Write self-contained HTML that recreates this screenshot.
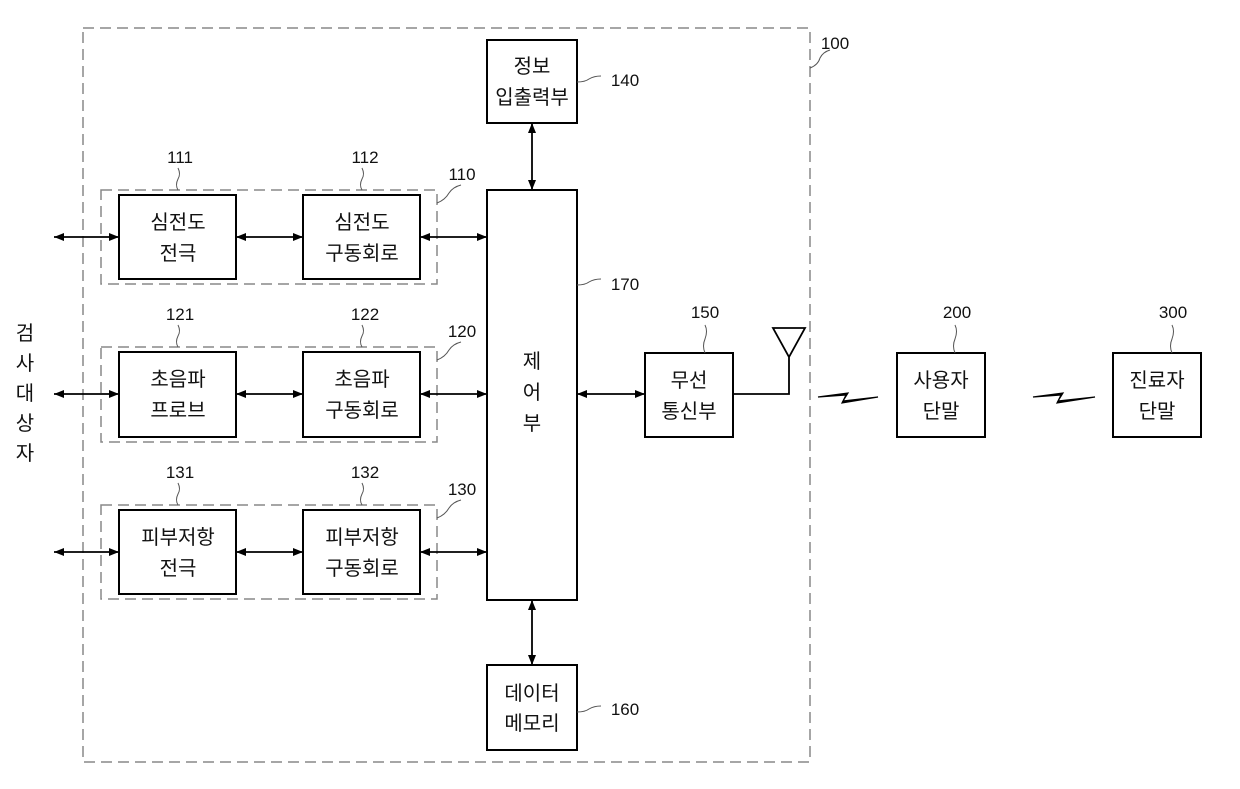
<!DOCTYPE html>
<html><head><meta charset="utf-8"><style>
body{margin:0;background:#fff}
svg text{font-family:"Liberation Sans","Noto Sans CJK KR",sans-serif;fill:#111}
.k{font-size:20px}
.n{font-size:17px}
</style></head><body>
<svg width="1240" height="784" viewBox="0 0 1240 784" xmlns="http://www.w3.org/2000/svg">
<defs>
<marker id="a" viewBox="0 0 10 10" refX="10" refY="5" markerWidth="14" markerHeight="10" orient="auto-start-reverse" markerUnits="userSpaceOnUse"><path d="M0,1 L10,5 L0,9 Z" fill="#000"/></marker>
</defs>
<g fill="none" stroke="#888" stroke-width="1.5" stroke-dasharray="11,6">
<rect x="83" y="28" width="727" height="734"/>
<rect x="101" y="190" width="336" height="94"/>
<rect x="101" y="347" width="336" height="95"/>
<rect x="101" y="505" width="336" height="94"/>
</g>
<g fill="#fff" stroke="#000" stroke-width="2">
<rect x="487" y="40" width="90" height="83"/>
<rect x="487" y="190" width="90" height="410"/>
<rect x="487" y="665" width="90" height="85"/>
<rect x="119" y="195" width="117" height="84"/>
<rect x="303" y="195" width="117" height="84"/>
<rect x="119" y="352" width="117" height="85"/>
<rect x="303" y="352" width="117" height="85"/>
<rect x="119" y="510" width="117" height="84"/>
<rect x="303" y="510" width="117" height="84"/>
<rect x="645" y="353" width="88" height="84"/>
<rect x="897" y="353" width="88" height="84"/>
<rect x="1113" y="353" width="88" height="84"/>
</g>
<g stroke="#000" stroke-width="1.8" marker-start="url(#a)" marker-end="url(#a)">
<line x1="54" y1="237" x2="119" y2="237"/><line x1="236" y1="237" x2="303" y2="237"/><line x1="420" y1="237" x2="487" y2="237"/>
<line x1="54" y1="394" x2="119" y2="394"/><line x1="236" y1="394" x2="303" y2="394"/><line x1="420" y1="394" x2="487" y2="394"/>
<line x1="54" y1="552" x2="119" y2="552"/><line x1="236" y1="552" x2="303" y2="552"/><line x1="420" y1="552" x2="487" y2="552"/>
<line x1="577" y1="394" x2="645" y2="394"/>
<line x1="532" y1="123" x2="532" y2="190"/><line x1="532" y1="600" x2="532" y2="665"/>
</g>
<g fill="none" stroke="#000" stroke-width="1.8">
<path d="M773,328 L805,328 L789,357 Z M789,357 L789,394 L733,394"/>
</g>
<g fill="#000" stroke="#000" stroke-width="1.2">
<path d="M818,397 L848,393 L843,401 L878,397 L842,403 L846,395 Z"/>
<path d="M1033,397 L1063,393 L1058,401 L1095,397 L1057,403 L1061,395 Z"/>
</g>
<g fill="none" stroke="#555" stroke-width="1">
<path d="M178,168 q3,6 0,11 q-3,6 0,11"/><path d="M362,168 q3,6 0,11 q-3,6 0,11"/>
<path d="M178,325 q3,6 0,11 q-3,6 0,11"/><path d="M362,325 q3,6 0,11 q-3,6 0,11"/>
<path d="M178,483 q3,6 0,11 q-3,6 0,11"/><path d="M362,483 q3,6 0,11 q-3,6 0,11"/>
<path d="M705,325 q3,6 0,14 q-3,7 0,14"/><path d="M955,325 q3,6 0,14 q-3,7 0,14"/><path d="M1172,325 q3,6 0,14 q-3,7 0,14"/>
<path d="M437,203 q8,-3 12,-10 q4,-6 12,-8"/><path d="M437,360 q8,-3 12,-10 q4,-6 12,-8"/><path d="M437,518 q8,-3 12,-10 q4,-6 12,-8"/>
<path d="M577,82 q8,0 12,-3 q5,-3 12,-3"/><path d="M577,285 q8,0 12,-3 q5,-3 12,-3"/><path d="M577,712 q8,0 12,-3 q5,-3 12,-3"/>
<path d="M810,68 q8,-3 10,-10 q3,-6 10,-8"/>
</g>
<g class="k" text-anchor="middle">
<text x="532" y="73">정보</text><text x="532" y="104">입출력부</text>
<text x="532" y="368">제</text><text x="532" y="399">어</text><text x="532" y="430">부</text>
<text x="532" y="700">데이터</text><text x="532" y="730">메모리</text>
<text x="178" y="229">심전도</text><text x="178" y="260">전극</text>
<text x="362" y="229">심전도</text><text x="362" y="260">구동회로</text>
<text x="178" y="386">초음파</text><text x="178" y="417">프로브</text>
<text x="362" y="386">초음파</text><text x="362" y="417">구동회로</text>
<text x="178" y="544">피부저항</text><text x="178" y="575">전극</text>
<text x="362" y="544">피부저항</text><text x="362" y="575">구동회로</text>
<text x="689" y="387">무선</text><text x="689" y="418">통신부</text>
<text x="941" y="387">사용자</text><text x="941" y="418">단말</text>
<text x="1157" y="387">진료자</text><text x="1157" y="418">단말</text>
<text x="25" y="340">검</text><text x="25" y="370">사</text><text x="25" y="400">대</text><text x="25" y="430">상</text><text x="25" y="460">자</text>
</g>
<g class="n" text-anchor="middle">
<text x="180" y="163">111</text><text x="365" y="163">112</text><text x="462" y="180">110</text>
<text x="180" y="320">121</text><text x="365" y="320">122</text><text x="462" y="337">120</text>
<text x="180" y="478">131</text><text x="365" y="478">132</text><text x="462" y="495">130</text>
<text x="625" y="86">140</text><text x="625" y="290">170</text><text x="625" y="715">160</text>
<text x="705" y="318">150</text><text x="957" y="318">200</text><text x="1173" y="318">300</text>
<text x="835" y="49">100</text>
</g>
</svg>
</body></html>
